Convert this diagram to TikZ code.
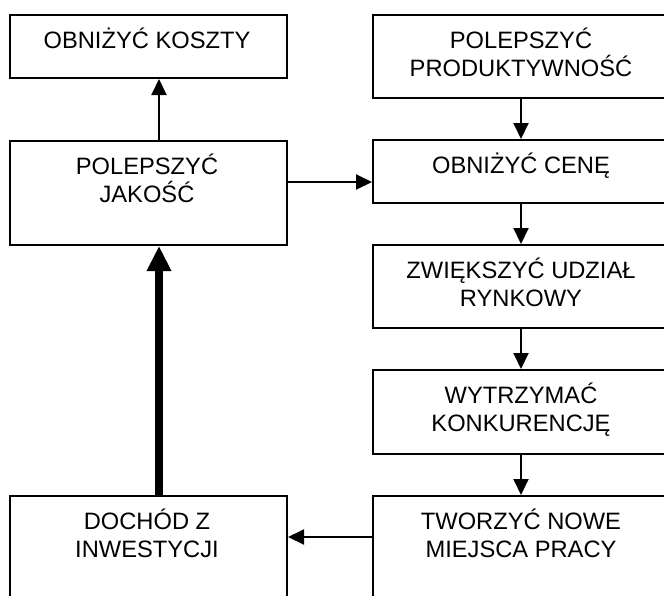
\documentclass[tikz,border=0pt]{standalone}
\usepackage{fontspec}
\setmainfont{Liberation Sans}
\usetikzlibrary{arrows.meta,calc}
\begin{document}
\begin{tikzpicture}[x=1pt,y=-1pt,
  box/.style={draw, line width=2pt, inner sep=0pt, anchor=north west},
  lbl/.style={anchor=base, inner sep=0pt, font=\fontsize{23.7}{28}\selectfont},
  arr/.style={line width=2pt, -{Triangle[length=16pt,width=15pt]}},
  bigarr/.style={line width=8pt, -{Triangle[length=25pt,width=23pt]}}]
\clip (0,0) rectangle (664,595);
% boxes
\node[box, minimum width=277pt, minimum height=63pt]  (koszty) at (9,14) {};
\node[box, minimum width=300pt, minimum height=83pt]  (prod)   at (372,14) {};
\node[box, minimum width=277pt, minimum height=104pt] (jakosc) at (9,140) {};
\node[box, minimum width=300pt, minimum height=63pt]  (cene)   at (372,139) {};
\node[box, minimum width=300pt, minimum height=83pt]  (udzial) at (372,244) {};
\node[box, minimum width=300pt, minimum height=84pt]  (konk)   at (372,369) {};
\node[box, minimum width=300pt, minimum height=120pt] (nowe)   at (372,495) {};
\node[box, minimum width=277pt, minimum height=120pt] (dochod) at (9,495) {};
% labels
\node[lbl] (tkoszty) at (147,48) {OBNIŻYĆ KOSZTY};
\node[lbl] (tprodA) at (521,48) {POLEPSZYĆ};
\node[lbl] (tprodB) at (521,76) {PRODUKTYWNOŚĆ};
\node[lbl] (tjakA) at (147,174) {POLEPSZYĆ};
\node[lbl] (tjakB) at (147,202) {JAKOŚĆ};
\node[lbl] (tcene) at (521,173) {OBNIŻYĆ CENĘ};
\node[lbl] (tudzA) at (521,278) {ZWIĘKSZYĆ UDZIAŁ};
\node[lbl] (tudzB) at (521,306) {RYNKOWY};
\node[lbl] (tkonA) at (521,403) {WYTRZYMAĆ};
\node[lbl] (tkonB) at (521,431) {KONKURENCJĘ};
\node[lbl] (tnowA) at (521,529) {TWORZYĆ NOWE};
\node[lbl] (tnowB) at (521,557) {MIEJSCA PRACY};
\node[lbl] (tdocA) at (147,529) {DOCHÓD Z};
\node[lbl] (tdocB) at (147,557) {INWESTYCJI};
% connectors
\draw[arr] ($(jakosc.north west)+(150,0)$) -- ($(koszty.south west)+(150,0)$);
\draw[arr] ($(prod.south west)+(149,0)$) -- ($(cene.north west)+(149,0)$);
\draw[arr] ($(cene.south west)+(149,0)$) -- ($(udzial.north west)+(149,0)$);
\draw[arr] ($(udzial.south west)+(149,0)$) -- ($(konk.north west)+(149,0)$);
\draw[arr] ($(konk.south west)+(149,0)$) -- ($(nowe.north west)+(149,0)$);
\draw[arr] ($(jakosc.north east)+(0,42)$) -- ($(cene.north west)+(0,43)$);
\draw[arr] ($(nowe.north west)+(0,42)$) -- ($(dochod.north east)+(0,42)$);
\draw[bigarr] ($(dochod.north west)+(150,0)$) -- ($(jakosc.south west)+(150,0)$);
\end{tikzpicture}
\end{document}
